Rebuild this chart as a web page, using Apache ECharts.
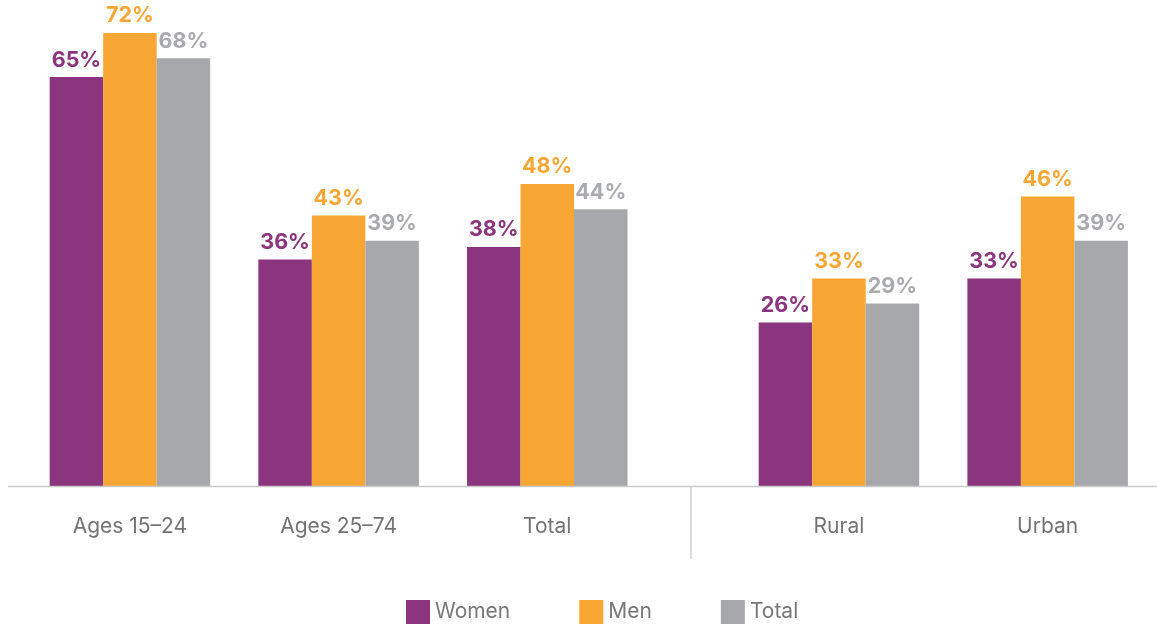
<!DOCTYPE html>
<html>
<head>
<meta charset="utf-8">
<script src="https://cdn.jsdelivr.net/npm/echarts@6/dist/echarts.min.js"></script>
<style>
  html, body { margin: 0; padding: 0; background: #fff; }
  #chart { width: 1157px; height: 625px; }
</style>
</head>
<body>
<div id="chart"></div>
<script>
  // 類別與數值
  var groupsAge = ['Ages 15–24', 'Ages 25–74', 'Total'];
  var groupsArea = ['Rural', 'Urban'];
  var seriesNames = ['Women', 'Men', 'Total'];
  var womenValues = [65, 36, 38, 26, 33];
  var menValues = [72, 43, 48, 33, 46];
  var totalValues = [68, 39, 44, 29, 39];

  var colors = ['#8b357e', '#f8a633', '#a7a8ab'];
  var labelColors = ['#8b357e', '#f8a633', '#a9aaad'];

  var chartDom = document.getElementById('chart');
  var chart = echarts.init(chartDom);

  function makeSeries(name, idx, values, gridIdx) {
    return {
      name: name,
      type: 'bar',
      xAxisIndex: gridIdx,
      yAxisIndex: gridIdx,
      data: values,
      barWidth: 53.5,
      barGap: '0%',
      itemStyle: { color: colors[idx] },
      label: {
        show: true,
        position: 'top',
        distance: 6,
        formatter: '{c}%',
        color: labelColors[idx],
        fontFamily: 'Inter',
        fontWeight: 'bold',
        fontSize: 21.5
      },
      animation: false
    };
  }

  var allValues = [womenValues, menValues, totalValues];
  var series = [];
  seriesNames.forEach(function (n, i) {
    series.push(makeSeries(n, i, allValues[i].slice(0, 3), 0));
  });
  seriesNames.forEach(function (n, i) {
    series.push(makeSeries(n, i, allValues[i].slice(3), 1));
  });

  function xAxis(data, gridIdx) {
    return {
      type: 'category',
      gridIndex: gridIdx,
      data: data,
      axisLine: { show: false },
      axisTick: { show: false },
      axisLabel: { color: '#737373', fontFamily: 'Inter', fontSize: 21, margin: 30 }
    };
  }
  function yAxis(gridIdx) {
    return { type: 'value', gridIndex: gridIdx, min: 0, max: 72, show: false };
  }

  var option = {
    backgroundColor: '#fff',
    grid: [
      { left: 25.6, width: 626, top: 33, bottom: 139 },
      { left: 734.6, width: 417.4, top: 33, bottom: 139 }
    ],
    xAxis: [xAxis(groupsAge, 0), xAxis(groupsArea, 1)],
    yAxis: [yAxis(0), yAxis(1)],
    legend: {
      data: seriesNames,
      bottom: 1,
      left: 406,
      padding: 0,
      itemWidth: 24,
      itemHeight: 24,
      itemGap: 69,
      icon: 'rect',
      textStyle: { color: '#787878', fontFamily: 'Inter', fontSize: 21 }
    },
    // 底線與分隔線
    graphic: [
      { type: 'line', shape: { x1: 8, y1: 486.5, x2: 1157, y2: 486.5 }, style: { stroke: '#c9c9c9', lineWidth: 1.5 }, z: 10 },
      { type: 'line', shape: { x1: 691, y1: 486, x2: 691, y2: 559 }, style: { stroke: '#cfcfcf', lineWidth: 1.5 }, z: 10 }
    ],
    series: series
  };

  chart.setOption(option);
</script>
</body>
</html>
